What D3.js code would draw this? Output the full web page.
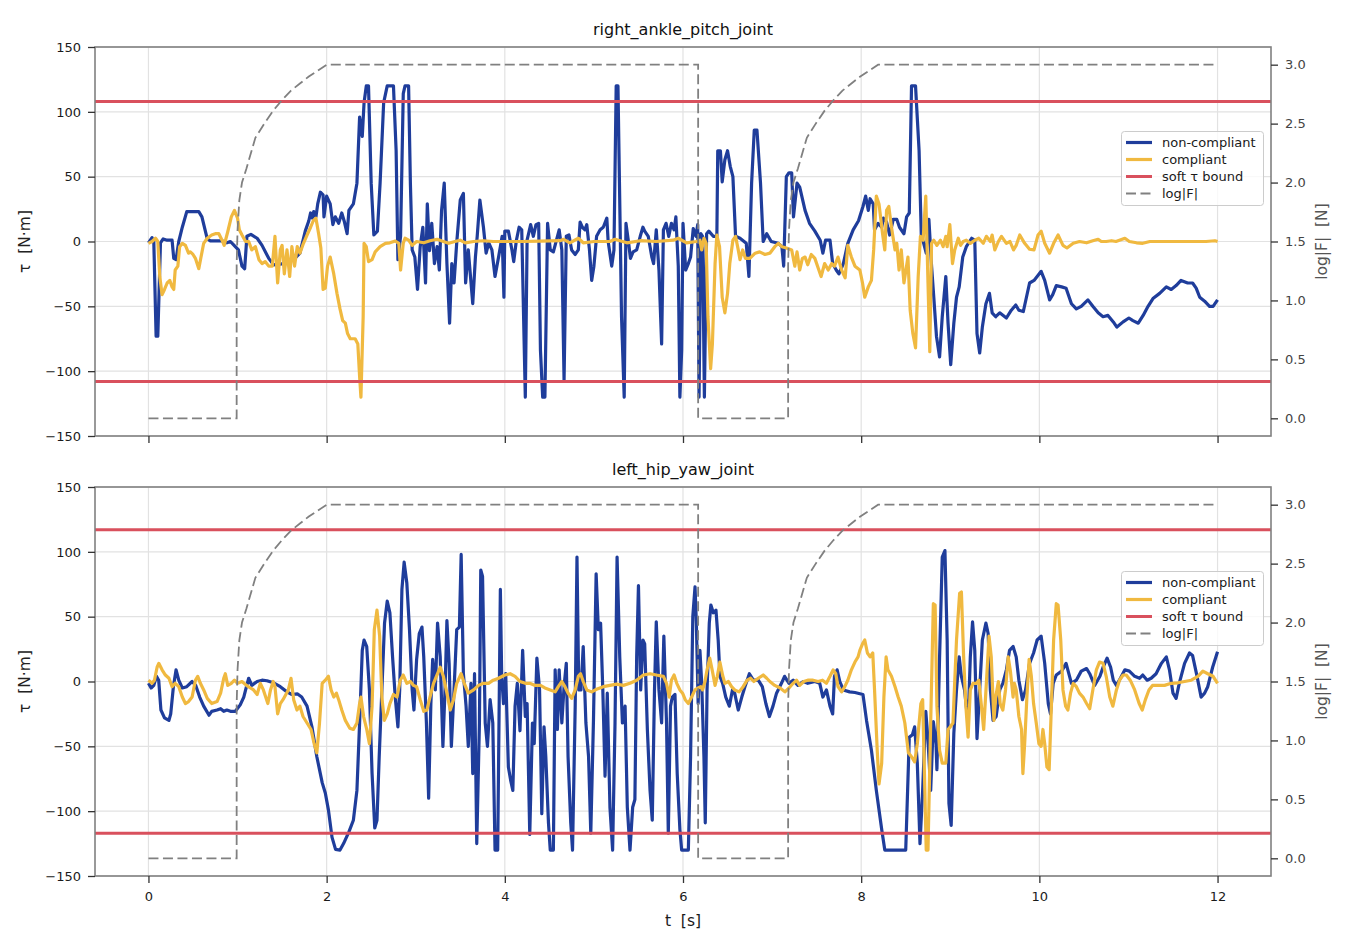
<!DOCTYPE html>
<html>
<head>
<meta charset="utf-8">
<script src="https://cdn.jsdelivr.net/npm/d3@7"></script>
<style>
	body { margin: 0; background: #fff; }
	svg text { font-family: "DejaVu Sans", sans-serif; }
</style>
</head>
<body>
<div id="chart"></div>
<script>

// ---- data ----
const timeTicks = [0, 2, 4, 6, 8, 10, 12];
const torqueTicks = [-150, -100, -50, 0, 50, 100, 150];
const forceTicks = [0, 0.5, 1, 1.5, 2, 2.5, 3];
const legendLabels = ["non-compliant", "compliant", "soft τ bound", "log|F|"];

// [t, log10|F|] shared by both panels
const logForce = [[0,0],[0.99,0],[0.99,1.3],[1.0,1.6],[1.02,1.85],[1.05,2.0],[1.1,2.12],[1.2,2.38],[1.3,2.5],[1.4,2.61],
	[1.5,2.7],[1.6,2.78],[1.7,2.84],[1.8,2.9],[1.9,2.95],[2.0,3.0],[6.17,3.0],[6.17,0],[7.18,0],[7.18,1.3],
	[7.19,1.6],[7.21,1.85],[7.24,2.0],[7.29,2.12],[7.39,2.38],[7.49,2.5],[7.59,2.61],[7.69,2.7],[7.79,2.78],
	[7.89,2.84],[7.99,2.9],[8.09,2.95],[8.19,3.0],[12,3.0]];

// soft torque bounds
const ankleBound = 108;
const hipBound = 117;

// [t, tau] right_ankle_pitch_joint
const ankleNonCompliant = [[0,-1],[0.04,3],[0.06,0],[0.086,-73],[0.105,-73],[0.135,-1],[0.165,2],[0.21,1],[0.265,1],[0.284,-13],[0.31,-14],[0.34,0],[0.38,11],[0.43,23],[0.565,23],[0.6,19],[0.66,2],[0.695,0.5],[0.83,0.5],[0.88,-1],[0.92,0],[0.975,-4],[1.01,-6.5],[1.05,-19],[1.08,-21],[1.105,4],[1.15,5.5],[1.22,2.5],[1.275,-3],[1.35,-13],[1.405,-18],[1.52,-17],[1.63,-14],[1.7,-9],[1.76,8],[1.8,16],[1.82,22],[1.84,18],[1.855,23],[1.88,19],[1.9,29],[1.93,38],[1.96,36],[1.97,19],[2.0,35],[2.04,29],[2.07,13],[2.097,19],[2.135,14],[2.17,22],[2.2,15],[2.23,6],[2.25,24],[2.3,29],[2.34,45],[2.37,96],[2.4,81],[2.42,107],[2.445,120],[2.47,120],[2.5,45],[2.53,5],[2.57,8],[2.6,45],[2.64,107],[2.68,120],[2.75,120],[2.78,70],[2.8,-14],[2.83,4],[2.86,114],[2.88,120],[2.92,120],[2.94,45],[2.96,-6.5],[2.99,-12],[3.02,-37],[3.05,-4],[3.08,11],[3.11,-32],[3.13,29],[3.155,-7],[3.18,14],[3.21,-17],[3.24,-4],[3.265,-22],[3.29,24],[3.32,45],[3.35,-17],[3.38,-63],[3.405,-17],[3.43,-32],[3.46,-1],[3.5,32],[3.535,37],[3.56,-32],[3.59,-6.5],[3.64,-48],[3.67,-12],[3.69,4],[3.72,32],[3.76,11],[3.79,-9],[3.82,-1],[3.855,-6.5],[3.89,-27],[3.93,-12],[3.97,4],[3.99,-43],
	[4.0,8],[4.04,8],[4.08,-6.5],[4.1,-15.5],[4.13,1],[4.16,11],[4.19,9],[4.23,-120],[4.25,1],[4.29,13],[4.32,4],[4.35,13],[4.38,14],[4.4,-84],[4.425,-120],[4.45,-120],[4.48,14],[4.51,-6.5],[4.545,-8],[4.57,-1.4],[4.61,9],[4.64,-6.5],[4.665,-107],[4.69,4],[4.72,5],[4.75,-6.5],[4.79,-10],[4.825,-6.5],[4.845,15],[4.87,11],[4.9,9],[4.92,13],[4.95,-6.5],[4.975,-30],[5.0,-19],[5.03,4],[5.07,9],[5.105,11],[5.145,18],[5.16,0],[5.2,-19],[5.225,-6.5],[5.25,120],[5.27,120],[5.31,-58],[5.34,-120],[5.36,14],[5.39,-1.4],[5.41,-13],[5.44,-8],[5.48,-6.5],[5.52,4],[5.55,11],[5.57,8],[5.61,4],[5.65,-12],[5.67,-17],[5.7,9],[5.73,-22],[5.76,-79],[5.78,9],[5.81,14],[5.84,4],[5.87,14],[5.9,9],[5.92,19],[5.947,-19],[5.965,-120],[5.985,-84],[6.0,14],[6.03,-22],[6.06,-17],[6.085,-12],[6.115,10],[6.145,4],[6.165,13],[6.18,-120],[6.2,6],[6.22,4],[6.24,-120],[6.265,6],[6.29,8],[6.34,4],[6.38,4],[6.39,70],[6.42,70],[6.44,46],[6.47,63],[6.5,70],[6.53,58],[6.56,50],[6.59,4],[6.64,2.5],[6.71,-1.4],[6.74,-27],[6.77,45],[6.8,86],[6.83,86],[6.87,45],[6.9,0],[6.94,6],[6.99,0],[7.07,-1.4],[7.11,-4],[7.13,-19],[7.16,50],[7.19,53],[7.22,53],[7.24,19],[7.28,45],[7.31,42],[7.37,24],[7.42,14],[7.48,8],[7.54,1],[7.57,-9],[7.6,1],[7.65,1],[7.68,-17],[7.72,-22],[7.75,-25],[7.8,-17],[7.85,-1.4],[7.91,9],[7.97,16],
	[8.02,27],[8.05,35],[8.08,24],[8.1,33],[8.135,29],[8.15,9],[8.19,14],[8.23,11],[8.25,18],[8.285,15],[8.32,5],[8.36,17],[8.4,17],[8.43,11],[8.48,6],[8.51,19],[8.54,22],[8.565,120],[8.61,120],[8.65,70],[8.675,4],[8.7,-1],[8.73,-9],[8.76,17],[8.79,-19],[8.815,-43],[8.845,-73],[8.88,-89],[8.91,-58],[8.95,-27],[8.975,-63],[9.005,-95],[9.04,-63],[9.07,-43],[9.1,-35],[9.14,-12],[9.18,-4],[9.24,2.5],[9.275,1],[9.3,-71],[9.33,-86],[9.36,-66],[9.4,-48],[9.44,-40],[9.47,-55],[9.51,-58],[9.555,-55],[9.63,-59],[9.685,-53],[9.735,-49],[9.77,-53],[9.82,-54],[9.855,-43],[9.89,-32],[9.94,-30],[9.975,-27],[10.02,-23],[10.06,-30],[10.115,-45],[10.15,-41],[10.19,-34],[10.25,-35],[10.3,-36],[10.36,-48],[10.415,-52],[10.47,-50],[10.545,-45],[10.6,-50],[10.66,-55],[10.715,-58],[10.77,-57],[10.83,-62],[10.87,-66],[10.94,-62],[11.005,-59],[11.05,-61],[11.11,-63],[11.165,-57],[11.22,-50],[11.275,-44],[11.35,-40],[11.425,-35],[11.48,-37],[11.535,-34],[11.59,-30],[11.665,-32],[11.72,-32],[11.76,-36],[11.8,-43],[11.855,-46],[11.91,-50],[11.95,-50],[12,-45]];

const ankleCompliant = [[0,-1.4],[0.04,0],[0.08,2.5],[0.105,0],[0.127,-27],[0.153,-41],[0.18,-37],[0.21,-32],[0.24,-30],[0.265,-35],[0.284,-37],[0.3,-22],[0.33,-19],[0.35,-4],[0.38,-1.4],[0.415,-3],[0.45,-9],[0.47,-8],[0.5,-10],[0.527,-13],[0.565,-21],[0.59,-12],[0.62,-1.4],[0.66,2.5],[0.71,5],[0.75,6],[0.79,6],[0.826,1],[0.85,-3],[0.89,7.5],[0.93,19],[0.965,24],[1.0,18],[1.02,9],[1.05,5],[1.09,0],[1.125,0],[1.16,-6.5],[1.2,-4],[1.24,-14],[1.275,-17],[1.31,-15.5],[1.35,-19],[1.39,-19],[1.42,4],[1.45,-32],[1.48,-6.5],[1.5,-3],[1.525,-25],[1.555,-6.5],[1.585,-27],[1.61,-4],[1.64,-19],[1.67,-4],[1.7,-9],[1.74,-1.4],[1.78,5],[1.82,11],[1.85,16],[1.88,18],[1.91,6],[1.935,-5],[1.96,-37],[1.985,-36],[2.01,-19],[2.04,-12],[2.08,-25],[2.116,-40],[2.15,-52],[2.18,-61],[2.21,-63],[2.235,-71],[2.265,-75],[2.32,-75],[2.35,-79],[2.37,-104],[2.385,-120],[2.41,-58],[2.42,-1.4],[2.445,-4],[2.47,-15.5],[2.51,-14],[2.545,-8],[2.6,-4],[2.66,-1.4],[2.71,-1],[2.77,0.4],[2.81,-1.4],[2.83,-22],[2.86,-1.4],[2.88,2.5],[2.92,1],[2.96,-3],[3.01,0],[3.09,-1],[3.16,0.6],[3.24,1.7],[3.31,0],[3.37,-1.4],[3.44,0],[3.5,1],[3.555,-1],[3.65,0],[3.76,0.6],[3.87,0],[3.99,0],
	[4.2,0],[4.4,0.3],[4.62,0.6],[4.66,1.7],[4.73,-1],[4.825,2.5],[4.88,-1],[5.0,0],[5.18,0],[5.237,1.7],[5.37,-1],[5.52,0.6],[5.7,0],[5.89,1],[5.947,2.5],[6.04,-1],[6.15,0],[6.19,1],[6.21,-6.5],[6.235,2.5],[6.26,-1.4],[6.28,-58],[6.31,-98],[6.33,-79],[6.36,-17],[6.38,5],[6.41,-4],[6.44,-43],[6.47,-55],[6.5,-40],[6.525,-17],[6.56,1],[6.59,4],[6.62,-6.5],[6.64,-14],[6.67,-6.5],[6.7,-13],[6.75,-13],[6.81,-9],[6.86,-8],[6.92,-10],[6.975,-9],[7.03,-4],[7.07,-1.4],[7.11,-4],[7.16,-5],[7.22,-6.5],[7.255,-19],[7.28,-8],[7.31,-22],[7.34,-13],[7.37,-12],[7.4,-18],[7.44,-10],[7.48,-13],[7.52,-21],[7.55,-27],[7.59,-17],[7.63,-22],[7.67,-17],[7.7,-19],[7.74,-12],[7.78,-22],[7.82,-28],[7.85,-3],[7.89,-12],[7.93,-19],[7.985,-22],
	[8.015,-32],[8.04,-43],[8.08,-35],[8.115,-30],[8.14,-6.5],[8.17,35],[8.2,29],[8.24,6],[8.265,-6.5],[8.285,24],[8.31,27],[8.34,11],[8.38,-6.5],[8.4,-1.4],[8.425,-22],[8.45,-6.5],[8.48,-32],[8.525,-12],[8.55,-53],[8.58,-71],[8.61,-82],[8.64,-27],[8.665,4],[8.695,1],[8.725,35],[8.75,-32],[8.77,-85],[8.79,-1.4],[8.815,1],[8.85,-3],[8.89,1],[8.92,-4],[8.95,4],[8.965,-4],[8.995,13],[9.025,-17],[9.05,-6.5],[9.09,2.5],[9.115,-3],[9.145,0],[9.18,1],[9.225,-1.4],[9.275,1],[9.32,2.5],[9.37,-1.4],[9.405,4],[9.45,0],[9.47,5],[9.5,-6.5],[9.54,0],[9.575,4],[9.63,-1.4],[9.67,0],[9.71,-6.5],[9.74,-3],[9.78,5],[9.835,-1.4],[9.89,-6],[9.94,-6.5],[9.985,5],[10.02,8],[10.06,-1.4],[10.115,-9],[10.16,-1.4],[10.21,5],[10.265,-3],[10.31,-5],[10.38,-1.4],[10.45,0],[10.53,-1],[10.6,0.6],[10.66,1.7],[10.695,0],[10.75,0],[10.81,0.6],[10.86,0],[10.96,2.5],[11.01,0],[11.09,-1],[11.16,-1.4],[11.24,0],[11.35,0],[11.535,0],[11.72,0],[11.87,0],[11.97,0.6],[12,0]];

// [t, tau] left_hip_yaw_joint
const hipNonCompliant = [[0,-1.4],[0.03,-5],[0.06,-3],[0.09,4],[0.115,1],[0.14,-22],[0.18,-28],[0.23,-30],[0.25,-25],[0.28,-4],[0.31,9],[0.34,1],[0.38,-5],[0.43,-4],[0.49,0],[0.53,-3],[0.575,-12],[0.62,-19],[0.68,-26],[0.71,-23],[0.77,-22],[0.81,-21],[0.845,-23],[0.88,-22],[0.92,-23],[0.975,-23],[1.03,-18],[1.07,-12],[1.1,-4],[1.125,2.5],[1.16,-3],[1.22,0],[1.275,1],[1.33,0.6],[1.405,-1],[1.48,-4],[1.555,-8],[1.61,-10],[1.67,-9.5],[1.72,-12],[1.78,-19],[1.835,-35],[1.89,-58],[1.95,-78],[1.985,-86],[2.02,-99],[2.06,-120],[2.1,-129.5],[2.15,-130],[2.19,-125],[2.25,-116],[2.3,-107],[2.34,-84],[2.37,-32],[2.4,24],[2.42,32],[2.45,27],[2.48,-6.5],[2.51,-71],[2.54,-113],[2.565,-107],[2.59,-58],[2.62,-6.5],[2.65,45],[2.68,62],[2.71,53],[2.74,19],[2.77,-12],[2.8,-35],[2.82,-6.5],[2.845,71],[2.87,92],[2.9,76],[2.93,40],[2.96,-6.5],[2.98,-22],[3.01,17],[3.04,37],[3.07,42],[3.09,19],[3.12,-32],[3.145,-90],[3.17,-17],[3.19,17],[3.22,-6.5],[3.245,45],[3.275,19],[3.305,-50],[3.33,-4],[3.35,47],[3.375,14],[3.4,-50],[3.43,-6.5],[3.46,40],[3.49,42],[3.51,98],[3.535,6],[3.565,-19],[3.59,-50],[3.62,-1.4],[3.64,-71],[3.66,6],[3.685,-125],[3.715,-32],[3.73,86],[3.75,81],[3.78,-32],[3.805,-50],[3.835,-14],[3.865,-32],[3.89,-130],[3.92,-130],[3.95,71],[3.965,4],[3.985,-17],
	[4.01,6],[4.04,-66],[4.065,-76],[4.09,-84],[4.115,-19],[4.14,-1.4],[4.17,-38],[4.2,24],[4.23,-27],[4.25,-17],[4.28,-118],[4.31,-32],[4.33,-48],[4.36,18],[4.39,-6.5],[4.415,-102],[4.44,-35],[4.46,-58],[4.49,-109],[4.51,-130],[4.545,-130],[4.565,9],[4.59,-37],[4.61,9],[4.64,-32],[4.665,-4],[4.69,14],[4.71,-58],[4.74,-109],[4.76,-130],[4.79,-19],[4.81,96],[4.83,-6.5],[4.855,-6.5],[4.88,27],[4.91,-32],[4.94,-58],[4.965,-117],[4.995,-30],[5.025,83],[5.05,40],[5.075,45],[5.1,-6.5],[5.125,-73],[5.15,-9],[5.18,-97],[5.21,-130],[5.237,-32],[5.26,96],[5.29,19],[5.32,-32],[5.35,-19],[5.375,-97],[5.405,-130],[5.435,-97],[5.46,-91],[5.48,19],[5.5,74],[5.525,-6.5],[5.55,32],[5.57,29],[5.6,-37],[5.63,-84],[5.655,-107],[5.68,-6.5],[5.7,46],[5.73,-6.5],[5.76,-32],[5.785,35],[5.815,-32],[5.835,-117],[5.86,-19],[5.88,-12],[5.91,-10],[5.935,-71],[5.965,-114],[5.985,-130],[6.06,-130],[6.085,-58],[6.11,50],[6.135,73],[6.15,45],[6.17,-17],[6.19,24],[6.21,-1.4],[6.235,-58],[6.25,-109],[6.27,-6.5],[6.295,45],[6.313,59],[6.34,53],[6.37,55],[6.395,32],[6.415,4],[6.445,-1.4],[6.48,-12],[6.52,-19],[6.555,-6.5],[6.58,-9],[6.62,-22],[6.66,-12],[6.695,-4],[6.745,6],[6.79,1],[6.845,1],[6.89,-4],[6.93,-17],[6.97,-27],[7.01,-19],[7.05,-9],[7.105,-1.4],[7.14,4],[7.19,-1.4],[7.236,1],[7.29,-3],[7.35,0],[7.4,-1.4],[7.48,0],[7.535,-1.4],[7.57,-12],[7.61,-6.5],[7.65,-19],[7.68,-25],[7.7,4],[7.73,9],[7.76,0],[7.8,-6.5],[7.87,-8],[7.93,-8.5],
	[8.02,-10],[8.06,-30],[8.115,-53],[8.17,-84],[8.23,-114],[8.265,-130],[8.5,-130],[8.54,-43],[8.575,-41],[8.6,-35],[8.63,-63],[8.66,-125],[8.69,-84],[8.725,-23],[8.75,-45],[8.78,-84],[8.81,-31],[8.84,-48],[8.85,-68],[8.88,19],[8.91,96],[8.94,101],[8.965,32],[8.985,-94],[9.01,-111],[9.04,-40],[9.07,-6.5],[9.1,19],[9.125,4],[9.16,-6.5],[9.2,-32],[9.225,19],[9.25,46],[9.275,24],[9.3,-44],[9.33,-6.5],[9.36,32],[9.4,45],[9.425,37],[9.45,-6.5],[9.48,-30],[9.515,-27],[9.555,-6.5],[9.59,-1.4],[9.63,9],[9.665,24],[9.705,27],[9.74,19],[9.77,1],[9.81,-14],[9.845,-6.5],[9.89,14],[9.935,22],[9.975,32],[10.02,35],[10.06,14],[10.1,-17],[10.125,-25],[10.155,-1.4],[10.19,5],[10.25,8],[10.3,14],[10.36,-1.4],[10.415,1],[10.47,8],[10.53,10],[10.565,6],[10.62,-3],[10.68,4],[10.715,11],[10.76,18],[10.8,11],[10.83,1],[10.865,-3],[10.91,2.5],[10.96,9],[11.01,8],[11.07,4],[11.125,2.5],[11.16,5],[11.21,1],[11.255,2.5],[11.31,6],[11.37,14],[11.425,19],[11.46,9],[11.5,-9],[11.535,-13],[11.57,-1.4],[11.63,14],[11.685,22],[11.72,20],[11.77,4],[11.815,-12],[11.855,-9],[11.89,-4],[11.945,11],[12,23]];

const hipCompliant = [[0,1],[0.04,-1.4],[0.067,1],[0.097,11],[0.116,14],[0.153,9],[0.19,5],[0.23,2.5],[0.265,-4],[0.3,-1.4],[0.34,-4],[0.38,-12],[0.415,-17],[0.45,-15.5],[0.49,-12],[0.527,1],[0.553,4],[0.583,-1.4],[0.62,-6.5],[0.66,-13],[0.71,-17],[0.77,-15.5],[0.81,-9],[0.845,2.5],[0.863,6],[0.89,-3],[0.93,-1.4],[0.965,1],[1.0,-1.4],[1.05,0],[1.1,-3],[1.144,-5],[1.18,-6.5],[1.22,-10],[1.256,-1.4],[1.29,-6.5],[1.34,-17],[1.37,-6.5],[1.4,0],[1.42,-4],[1.45,-25],[1.48,-17],[1.51,-14],[1.55,-9],[1.57,-6.5],[1.6,2.5],[1.63,-14],[1.667,-22],[1.7,-19],[1.735,-27],[1.78,-32],[1.825,-37],[1.86,-48],[1.89,-55],[1.92,-32],[1.95,-1.4],[1.985,1],[2.02,4],[2.05,-6.5],[2.08,-12],[2.11,-9],[2.135,-14],[2.17,-22],[2.21,-30],[2.26,-36],[2.3,-37],[2.34,-32],[2.37,-17],[2.385,-12],[2.415,-27],[2.45,-37],[2.48,-48],[2.51,-19],[2.535,40],[2.565,55],[2.595,35],[2.62,-12],[2.647,-30],[2.68,-25],[2.71,-17],[2.75,-10],[2.79,-12],[2.826,1],[2.86,5],[2.9,-1.4],[2.94,0],[2.975,-3],[3.01,-4],[3.05,-14],[3.09,-23],[3.125,-22],[3.16,-12],[3.2,-1.4],[3.245,6],[3.275,11],[3.31,4],[3.35,-9],[3.387,-22],[3.424,-14],[3.46,-1.4],[3.51,6],[3.545,-1.4],[3.59,-9],[3.65,-6.5],[3.705,-3],[3.76,-1.4],[3.817,-1.4],[3.87,1],[3.93,2.5],
	[4.0,5],[4.06,6],[4.115,4],[4.17,0],[4.23,-1.4],[4.28,-1.4],[4.34,-3],[4.4,-3],[4.45,-5],[4.51,-6.5],[4.565,-8],[4.6,-4],[4.64,0],[4.675,-4],[4.71,-9],[4.75,-13],[4.79,-6.5],[4.825,4],[4.85,6],[4.88,0],[4.92,-6.5],[4.975,-8],[5.03,-6],[5.105,-4],[5.18,-3],[5.255,-2],[5.33,-3],[5.405,-1.4],[5.48,1],[5.555,5],[5.63,6],[5.7,5],[5.78,4],[5.815,-1.4],[5.845,-12],[5.87,1],[5.9,5],[5.93,-1.4],[5.965,-6.5],[5.995,-9],[6.025,-14],[6.06,-17],[6.097,-12],[6.134,-6.5],[6.17,-5],[6.2,-4],[6.22,-6.5],[6.247,0],[6.27,9],[6.3,18],[6.33,8],[6.36,-3],[6.385,4],[6.414,15],[6.444,5],[6.47,-1.4],[6.51,0],[6.545,-4],[6.58,-6.5],[6.63,-8],[6.675,-4],[6.72,1],[6.76,2.5],[6.795,0],[6.845,2.5],[6.9,5],[6.94,2.5],[6.975,0],[7.03,-3],[7.09,-5],[7.144,-8],[7.19,-5],[7.236,-1.4],[7.274,1],[7.31,-3],[7.355,0],[7.4,1],[7.46,1],[7.517,0],[7.566,1],[7.61,-1.4],[7.65,4],[7.685,9],[7.715,6],[7.74,-4],[7.78,-8],[7.816,-4],[7.85,1],[7.89,9],[7.93,15],[7.965,19],
	[7.985,24],[8.015,29],[8.04,32],[8.07,22],[8.1,19],[8.13,22],[8.15,-6.5],[8.18,-53],[8.2,-79],[8.23,-63],[8.255,-12],[8.28,19],[8.3,9],[8.34,4],[8.38,-4],[8.415,-12],[8.45,-19],[8.49,-32],[8.53,-55],[8.565,-58],[8.6,-62],[8.63,-48],[8.65,-32],[8.67,-17],[8.69,-14],[8.71,-71],[8.73,-130],[8.75,-130],[8.78,-32],[8.81,60],[8.83,59],[8.85,-19],[8.88,-53],[8.91,-63],[8.95,-63],[8.975,-37],[9.0,-35],[9.03,-32],[9.07,32],[9.105,68],[9.125,69],[9.15,19],[9.175,-19],[9.2,-43],[9.225,-6.5],[9.255,-1.4],[9.295,-1.4],[9.32,1],[9.35,-19],[9.375,-37],[9.405,-1.4],[9.435,35],[9.46,19],[9.49,-30],[9.51,-12],[9.54,0],[9.56,-17],[9.59,-22],[9.62,-6.5],[9.65,19],[9.675,8],[9.705,-12],[9.72,-1.4],[9.74,-6.5],[9.77,-27],[9.8,-37],[9.815,-71],[9.835,-48],[9.86,-12],[9.885,17],[9.91,4],[9.935,-17],[9.965,-32],[9.995,-48],[10.02,-50],[10.04,-37],[10.06,-48],[10.085,-66],[10.11,-68],[10.135,-19],[10.16,32],[10.19,60],[10.21,59],[10.24,32],[10.265,-6.5],[10.295,-19],[10.32,-22],[10.35,-9],[10.38,-1.4],[10.415,-4],[10.45,-9],[10.49,-12],[10.53,-17],[10.565,-21],[10.6,-6.5],[10.64,9],[10.675,15],[10.715,14],[10.75,4],[10.79,-12],[10.825,-19],[10.865,-6.5],[10.9,1],[10.94,5],[10.975,5],[11.02,1],[11.07,-6.5],[11.12,-17],[11.155,-22],[11.19,-14],[11.23,-6.5],[11.27,-3],[11.33,-3],[11.405,-3],[11.48,-1.4],[11.555,-1],[11.63,0],[11.705,1],[11.78,4],[11.835,8],[11.89,6],[11.95,4],[12,-1.4]];

const colors = {nonCompliant: "#1f3d9b", compliant: "#f0b940", bound: "#d9505d", force: "#808080"};
const forceDash = "10,4.5";

/*
 * JointPanel - one subplot: torque on the left axis, log|F| on a twin right axis
 */
class JointPanel {

	constructor(svg, title, top, nonCompliant, compliant, bound, showTickLabels) {
		this.svg = svg;
		this.title = title;
		this.top = top;
		this.nonCompliant = nonCompliant;
		this.compliant = compliant;
		this.bound = bound;
		this.showTickLabels = showTickLabels;

		this.initVis();
	}

	initVis() {
		let vis = this;

		vis.left = 95;
		vis.right = 1271;
		vis.bottom = vis.top + 389;

		vis.g = vis.svg.append("g");

		// scales
		vis.x = d3.scaleLinear().domain([-0.6, 12.6]).range([vis.left, vis.right]);
		vis.y = d3.scaleLinear().domain([-150, 150]).range([vis.bottom, vis.top]);
		vis.yF = d3.scaleLinear().domain([-0.15, 3.15]).range([vis.bottom, vis.top]);

		// grid
		vis.g.append("g").selectAll("line")
			.data(timeTicks)
			.join("line")
			.attr("x1", d => vis.x(d)).attr("x2", d => vis.x(d))
			.attr("y1", vis.top).attr("y2", vis.bottom)
			.attr("stroke", "#e2e2e2").attr("stroke-width", 1.2);

		vis.g.append("g").selectAll("line")
			.data(torqueTicks)
			.join("line")
			.attr("x1", vis.left).attr("x2", vis.right)
			.attr("y1", d => vis.y(d)).attr("y2", d => vis.y(d))
			.attr("stroke", "#e2e2e2").attr("stroke-width", 1.2);

		// torque traces
		vis.line = d3.line()
			.x(d => vis.x(d[0]))
			.y(d => vis.y(d[1]));

		vis.g.append("path")
			.datum(vis.nonCompliant)
			.attr("d", vis.line)
			.attr("fill", "none")
			.attr("stroke", colors.nonCompliant)
			.attr("stroke-width", 3.2)
			.attr("stroke-linejoin", "round");

		vis.g.append("path")
			.datum(vis.compliant)
			.attr("d", vis.line)
			.attr("fill", "none")
			.attr("stroke", colors.compliant)
			.attr("stroke-width", 3.2)
			.attr("stroke-linejoin", "round");

		// soft bounds
		vis.g.append("g").selectAll("line")
			.data([vis.bound, -vis.bound])
			.join("line")
			.attr("x1", vis.left).attr("x2", vis.right)
			.attr("y1", d => vis.y(d)).attr("y2", d => vis.y(d))
			.attr("stroke", colors.bound).attr("stroke-width", 3);

		// twin axis: log|F|
		vis.forceLine = d3.line()
			.x(d => vis.x(d[0]))
			.y(d => vis.yF(d[1]));

		vis.g.append("path")
			.datum(logForce)
			.attr("d", vis.forceLine)
			.attr("fill", "none")
			.attr("stroke", colors.force)
			.attr("stroke-width", 1.8)
			.attr("stroke-dasharray", forceDash);

		// spines
		vis.g.append("rect")
			.attr("x", vis.left).attr("y", vis.top)
			.attr("width", vis.right - vis.left).attr("height", vis.bottom - vis.top)
			.attr("fill", "none").attr("stroke", "#808080").attr("stroke-width", 1.6);

		// axes
		let yAxis = vis.g.append("g")
			.attr("transform", "translate(" + vis.left + ",0)")
			.call(d3.axisLeft(vis.y).tickValues(torqueTicks).tickSize(7).tickPadding(7));

		let fAxis = vis.g.append("g")
			.attr("transform", "translate(" + vis.right + ",0)")
			.call(d3.axisRight(vis.yF).tickValues(forceTicks).tickSize(7).tickPadding(7).tickFormat(d3.format(".1f")));

		let xAxis = vis.g.append("g")
			.attr("transform", "translate(0," + vis.bottom + ")")
			.call(d3.axisBottom(vis.x).tickValues(timeTicks).tickSize(7).tickPadding(9)
				.tickFormat(vis.showTickLabels ? d3.format("d") : ""));

		[yAxis, fAxis, xAxis].forEach(function(a) {
			a.select(".domain").remove();
			a.attr("font-size", 13).attr("font-family", "DejaVu Sans");
			a.selectAll(".tick line").attr("stroke", "#333").attr("stroke-width", 1.3);
			a.selectAll(".tick text").attr("fill", "#1a1a1a");
		});
		fAxis.selectAll(".tick text").attr("fill", "#444");

		// titles and labels
		vis.g.append("text")
			.attr("x", (vis.left + vis.right) / 2)
			.attr("y", vis.top - 12)
			.attr("text-anchor", "middle")
			.attr("font-size", 16)
			.attr("fill", "#111")
			.text(vis.title);

		vis.g.append("text")
			.attr("transform", "translate(25," + ((vis.top + vis.bottom) / 2) + ") rotate(-90)")
			.attr("text-anchor", "middle")
			.attr("dy", "0.35em")
			.attr("font-size", 15.5)
			.attr("fill", "#222")
			.style("white-space", "pre")
			.text("τ  [N·m]");

		vis.g.append("text")
			.attr("transform", "translate(1322," + ((vis.top + vis.bottom) / 2) + ") rotate(-90)")
			.attr("text-anchor", "middle")
			.attr("dy", "0.35em")
			.attr("font-size", 15.5)
			.attr("fill", "#555")
			.style("white-space", "pre")
			.text("log|F|  [N]");

		vis.drawLegend();
	}

	drawLegend() {
		let vis = this;

		const styles = [
			{color: colors.nonCompliant, width: 3.2, dash: null},
			{color: colors.compliant, width: 3.2, dash: null},
			{color: colors.bound, width: 3, dash: null},
			{color: colors.force, width: 1.8, dash: forceDash}
		];

		let lg = vis.g.append("g")
			.attr("transform", "translate(1121.5," + (vis.top + 84.5) + ")");

		lg.append("rect")
			.attr("width", 142).attr("height", 74).attr("rx", 3)
			.attr("fill", "#fff").attr("fill-opacity", 0.8)
			.attr("stroke", "#cccccc").attr("stroke-width", 1);

		let rows = lg.selectAll("g.row")
			.data(legendLabels)
			.join("g")
			.attr("class", "row")
			.attr("transform", (d, i) => "translate(0," + (11 + i * 17) + ")");

		rows.append("line")
			.attr("x1", 4.5).attr("x2", 30.5)
			.attr("stroke", (d, i) => styles[i].color)
			.attr("stroke-width", (d, i) => styles[i].width)
			.attr("stroke-dasharray", (d, i) => styles[i].dash);

		rows.append("text")
			.attr("x", 40.5)
			.attr("dy", "0.35em")
			.attr("font-size", 13)
			.attr("fill", "#1a1a1a")
			.text(d => d);
	}
}

const svg = d3.select("#chart").append("svg")
	.attr("width", 1349)
	.attr("height", 946)
	.style("background", "#fff");

new JointPanel(svg, "right_ankle_pitch_joint", 47, ankleNonCompliant, ankleCompliant, ankleBound, false);
new JointPanel(svg, "left_hip_yaw_joint", 487, hipNonCompliant, hipCompliant, hipBound, true);

svg.append("text")
	.attr("x", 683)
	.attr("y", 926)
	.attr("text-anchor", "middle")
	.attr("font-size", 15.5)
	.attr("fill", "#1a1a1a")
	.style("white-space", "pre")
	.text("t  [s]");

</script>
</body>
</html>
